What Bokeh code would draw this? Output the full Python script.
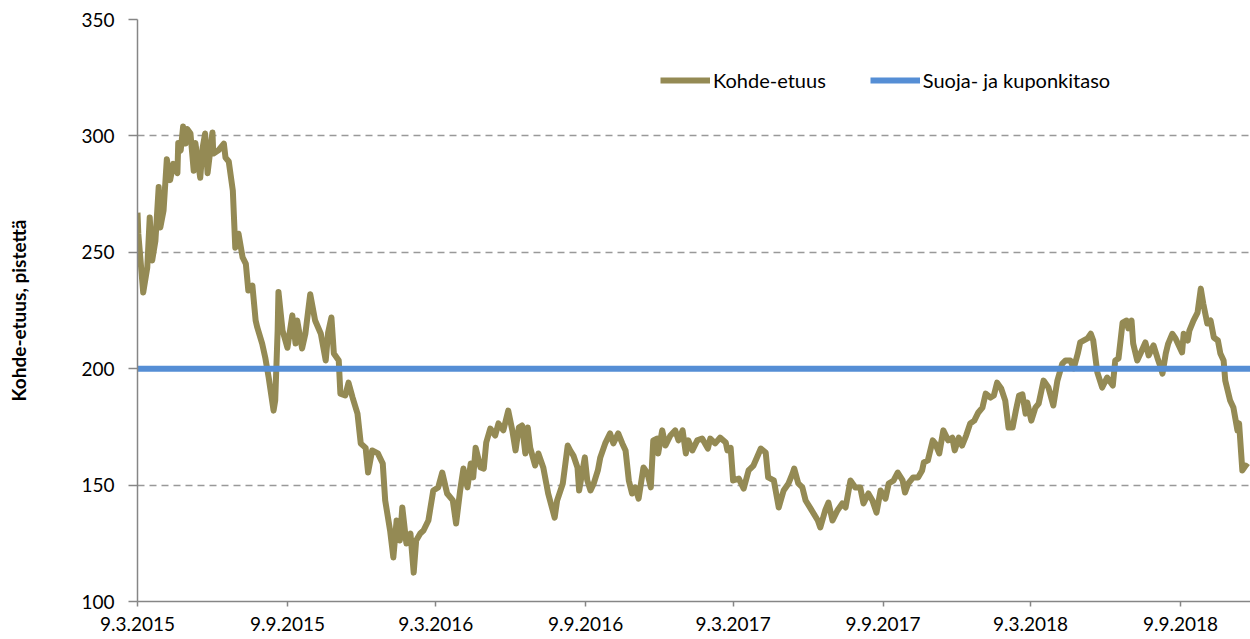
import pandas as pd
from bokeh.plotting import figure
from bokeh.models import FixedTicker, Range1d, Legend, LegendItem
from bokeh.embed import file_html
from bokeh.resources import INLINE

# ---- data ----
start_date = "2015-03-09"
end_date = "2018-12-04"
# days elapsed since 9.3.2015
days = [0,1,7,12,15,18,22,26,28,32,36,40,44,49,50,53,56,59,61,65,69,71,77,80,83,86,92,93,99,106,108,112,117,120,124,129,133,136,141,145,147,153,157,161,167,169,172,173,178,184,190,194,196,202,206,212,218,225,231,234,238,241,247,249,255,259,264,270,274,280,283,288,295,301,304,310,314,318,322,325,330,335,339,342,347,351,357,363,369,374,380,387,391,396,400,405,409,412,415,421,425,428,433,439,443,449,455,460,464,468,472,476,479,482,488,492,498,504,512,515,522,528,531,535,540,542,549,552,556,560,565,568,574,580,584,590,595,599,603,607,611,615,621,626,630,633,638,639,644,648,654,660,664,669,673,676,681,687,693,700,703,709,715,722,724,728,731,738,744,750,756,765,771,774,781,787,793,799,804,806,811,816,820,826,835,838,844,848,853,859,865,869,875,881,887,891,897,902,907,912,918,922,928,933,939,942,946,952,958,963,965,970,976,979,984,989,995,1000,1003,1008,1012,1017,1022,1027,1032,1037,1041,1047,1051,1055,1060,1065,1069,1074,1078,1082,1086,1090,1092,1097,1102,1106,1112,1118,1124,1129,1135,1139,1145,1149,1154,1157,1166,1170,1173,1178,1184,1190,1197,1200,1204,1209,1214,1216,1220,1222,1227,1231,1237,1241,1247,1252,1255,1258,1262,1265,1270,1274,1278,1282,1284,1289,1291,1296,1301,1305,1308,1313,1317,1321,1326,1329,1333,1335,1341,1345,1350,1352,1356,1360,1363]
kohde = [267,258,232.7,243.5,265,246.5,255,278,260.7,268,290,281,288,284,297,293.7,304,296.7,303,301,285,297,282,295,301,284,301.5,292.4,293.7,296.7,290.7,289,276.5,252,258,247.8,245,233.6,235.7,220.7,217.7,210.8,204.4,196.2,182,186.3,216.4,233,216.4,209,222.9,210.8,220.7,208.7,215,232,220.7,215,203.5,215.6,222,206.5,203.5,189.3,188.5,194,187.6,180.7,167.9,166,155.4,164.9,163.6,159.3,143.4,130.5,118.9,134.8,126.2,140.4,124.9,129.2,112.4,126.2,129.2,130.5,134.8,147.7,149,155.4,146.4,143.4,133.5,147.7,157.1,149,159.3,153.3,166,157.6,157.1,168.3,174.3,171.3,176.5,173.5,182,173.5,164.9,174.7,175.6,163.6,174.7,166,158.4,163.6,157.6,146.4,136,143.4,150.7,167,164.9,162.7,157.6,147.7,161.9,152,147.7,150.7,156.3,161.9,167.9,172.2,167.9,172.2,167.9,164.9,152,146.4,149,144.2,157.6,155,149,169.2,170,163.6,173.5,167,171.3,173.5,169.2,173.5,163.6,169.2,164.9,169.2,170,165.7,170,167.9,170.4,168.3,164.9,166,152,152.8,148.5,156.3,158.4,165.7,164,153.3,152,140.4,147.7,150.7,155,157.1,150.7,149,143.4,140,134.8,131.8,139.1,142.5,134.8,139.1,142.1,140.4,152,149,149,142.1,146.4,143.4,138.2,147.7,144.2,150.7,152,155.4,152,146.8,150.7,153.3,153.3,156.3,159.7,160.6,169.2,167.9,163.6,173.5,169.2,170.4,164.9,170.4,167,171.3,176.5,177.7,181.2,183.3,189.3,187.6,188.5,194,191.5,186.3,174.7,174.7,182,188.5,189,180.7,185.5,177.7,183.3,185,194.9,191.9,184.2,194.9,202.2,203.5,203.5,200.1,206.5,211.3,213,215,212.1,198.4,191.9,196.2,192.8,203.5,204.4,219.8,220.7,217.3,220.7,210.8,203.5,206.5,211.3,205.7,210,204.4,201.4,197.9,206.5,210.8,215,213,210,207,215,212.1,216.4,220.7,224.1,234.4,228,219.4,220.7,213.4,212.1,206.5,203.5,194.9,186.3,183.3,173.5,176.5,156.3,158.4,157.6]
level_dates = [start_date, end_date]
level_values = [200, 200]

tick_dates = ["2015-03-09", "2015-09-09", "2016-03-09", "2016-09-09",
              "2017-03-09", "2017-09-09", "2018-03-09", "2018-09-09"]
tick_labels = ["9.3.2015", "9.9.2015", "9.3.2016", "9.9.2016",
               "9.3.2017", "9.9.2017", "9.3.2018", "9.9.2018"]
y_ticks = [100, 150, 200, 250, 300, 350]

series_names = ["Kohde-etuus", "Suoja- ja kuponkitaso"]

# ---- build ----
dates = pd.Timestamp(start_date) + pd.to_timedelta(days, unit="D")
lvl_dates = pd.to_datetime(level_dates)

def ms(s):
    return pd.Timestamp(s).value / 1e6

FONT = "Lato"
p = figure(width=1250, height=639, x_axis_type="datetime",
           output_backend="svg", toolbar_location=None,
           x_range=Range1d(ms(start_date), ms(end_date)),
           y_range=Range1d(100, 350),
           min_border_left=137, min_border_right=0,
           min_border_top=19, min_border_bottom=38)
p.outline_line_color = None
p.background_fill_color = "white"
p.border_fill_color = "white"

r1 = p.line(dates, kohde, line_color="#948A54", line_width=6, line_join="round")
r2 = p.line(lvl_dates, level_values, line_color="#558ED5", line_width=6)

# axes
tick_ms = [ms(d) for d in tick_dates]
p.xaxis.ticker = FixedTicker(ticks=tick_ms)
p.xaxis.major_label_overrides = {t: l for t, l in zip(tick_ms, tick_labels)}
p.yaxis.ticker = FixedTicker(ticks=y_ticks)
for ax in (p.xaxis[0], p.yaxis[0]):
    ax.axis_line_color = "#868686"
    ax.axis_line_width = 1.5
    ax.major_tick_line_color = "#868686"
    ax.major_tick_line_width = 1.5
    ax.major_tick_in = 0
    ax.minor_tick_out = 0
    ax.minor_tick_in = 0
    ax.major_label_text_font = FONT
    ax.major_label_text_font_size = "19px"
    ax.major_label_text_color = "black"
p.xaxis.major_tick_out = 5
p.xaxis.major_label_standoff = 10
p.yaxis.major_tick_out = 9
p.yaxis.major_label_standoff = 14

p.yaxis.axis_label = "Kohde-etuus, pistettä"
p.yaxis.axis_label_text_font = FONT
p.yaxis.axis_label_text_font_size = "19px"
p.yaxis.axis_label_text_font_style = "bold"
p.yaxis.axis_label_text_color = "black"
p.yaxis.axis_label_standoff = 48

# grid
p.xgrid.grid_line_color = None
p.ygrid.grid_line_color = "#999999"
p.ygrid.grid_line_width = 1.3
p.ygrid.grid_line_dash = "7 5"

# legend
legend = Legend(items=[LegendItem(label=series_names[0], renderers=[r1]),
                       LegendItem(label=series_names[1], renderers=[r2])],
                orientation="horizontal", location=(523, 509),
                glyph_width=50, glyph_height=22, label_standoff=3,
                spacing=44, padding=0, margin=0,
                border_line_color=None, background_fill_alpha=0,
                label_text_font=FONT, label_text_font_size="20px",
                label_text_color="black")
p.add_layout(legend, "center")

open("out.html", "w").write(file_html(p, INLINE))
